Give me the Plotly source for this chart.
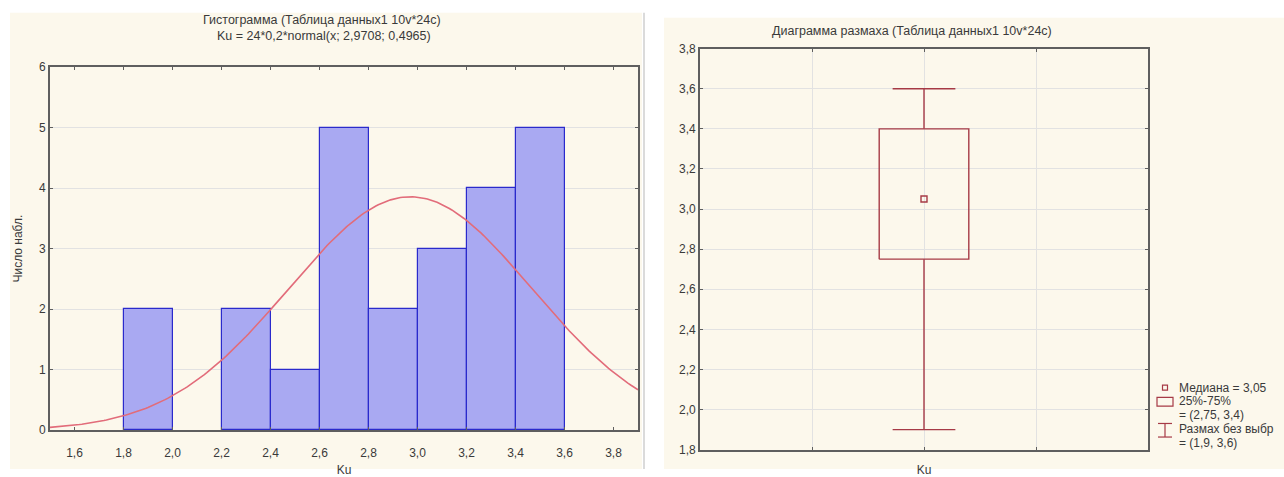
import numpy as np
import plotly.graph_objects as go

# ---- histogram data (Ku, 24 observations, bin width 0.2) ----
bin_left = [1.8, 2.0, 2.2, 2.4, 2.6, 2.8, 3.0, 3.2, 3.4]
bin_counts = [2, 0, 2, 1, 5, 2, 3, 4, 5]
bin_width = 0.2
n_obs = 24
fit_mean = 2.9708
fit_sd = 0.4965

# ---- box plot summary ----
box_label = "Ku"
q1, median, q3 = 2.75, 3.05, 3.4
whisker_low, whisker_high = 1.9, 3.6

W, H = 1284, 477
CREAM = "#fcf8ec"
FRAME = "#5f5f5f"
GRID = "#e2e2e2"
TXT = "#3a3a3a"
BOXC = "#a63a46"
FONT = "Liberation Sans"


def px_x(v):
    return v / W


def px_y(v):
    return (H - v) / H


def fmt(v):
    s = f"{v:g}"
    return s.replace(".", ",")


fig = go.Figure()

# histogram bars (empty bins get no outline)
fig.add_trace(go.Bar(
    x=[b + bin_width / 2 for b in bin_left], y=bin_counts, width=bin_width,
    marker=dict(color="#a9a9f2",
                line=dict(color=["#2a2acc" if c > 0 else "rgba(0,0,0,0)" for c in bin_counts],
                          width=1.2)),
    xaxis="x", yaxis="y", showlegend=False, hoverinfo="skip"))

# fitted normal curve, scaled to counts: n * width * pdf
xs = np.linspace(1.5, 3.9, 241)
pdf = np.exp(-0.5 * ((xs - fit_mean) / fit_sd) ** 2) / (fit_sd * np.sqrt(2 * np.pi))
fig.add_trace(go.Scatter(
    x=xs, y=n_obs * bin_width * pdf, mode="lines",
    line=dict(color="#e26c7a", width=1.6),
    xaxis="x", yaxis="y", showlegend=False, hoverinfo="skip"))

# box-and-whisker: box, whiskers, caps, median
bx = 0.0
half_box = 0.4
half_cap = 0.28
fig.add_trace(go.Scatter(
    x=[bx - half_box, bx + half_box, bx + half_box, bx - half_box, bx - half_box],
    y=[q1, q1, q3, q3, q1], mode="lines",
    line=dict(color=BOXC, width=1.4), xaxis="x2", yaxis="y2",
    showlegend=False, hoverinfo="skip"))
fig.add_trace(go.Scatter(
    x=[bx, bx, None, bx, bx, None,
       bx - half_cap, bx + half_cap, None, bx - half_cap, bx + half_cap],
    y=[q3, whisker_high, None, q1, whisker_low, None,
       whisker_high, whisker_high, None, whisker_low, whisker_low],
    mode="lines", line=dict(color=BOXC, width=1.4), xaxis="x2", yaxis="y2",
    showlegend=False, hoverinfo="skip"))
fig.add_trace(go.Scatter(
    x=[bx], y=[median], mode="markers",
    marker=dict(symbol="square-open", size=6, color=BOXC, line=dict(width=1.4)),
    xaxis="x2", yaxis="y2", showlegend=False, hoverinfo="skip"))

# panel backgrounds and separator
shapes = [
    dict(type="rect", xref="paper", yref="paper", x0=px_x(10), x1=px_x(642),
         y0=0, y1=px_y(6), fillcolor=CREAM, line=dict(width=0), layer="below"),
    dict(type="rect", xref="paper", yref="paper", x0=px_x(664), x1=1,
         y0=0, y1=px_y(11), fillcolor=CREAM, line=dict(width=0), layer="below"),
    dict(type="line", xref="paper", yref="paper", x0=px_x(644), x1=px_x(644),
         y0=0, y1=px_y(6), line=dict(color="#cfcfcf", width=1.5)),
]

# legend glyphs for the box plot
lx = 1165
shapes += [
    dict(type="rect", xref="paper", yref="paper", x0=px_x(lx - 2.5), x1=px_x(lx + 2.5),
         y0=px_y(395.5), y1=px_y(390.5), line=dict(color=BOXC, width=1.2)),
    dict(type="rect", xref="paper", yref="paper", x0=px_x(lx - 8), x1=px_x(lx + 8),
         y0=px_y(412), y1=px_y(403), line=dict(color=BOXC, width=1.2)),
    dict(type="line", xref="paper", yref="paper", x0=px_x(lx - 7), x1=px_x(lx + 7),
         y0=px_y(430), y1=px_y(430), line=dict(color=BOXC, width=1.2)),
    dict(type="line", xref="paper", yref="paper", x0=px_x(lx - 7), x1=px_x(lx + 7),
         y0=px_y(444), y1=px_y(444), line=dict(color=BOXC, width=1.2)),
    dict(type="line", xref="paper", yref="paper", x0=px_x(lx), x1=px_x(lx),
         y0=px_y(430), y1=px_y(444), line=dict(color=BOXC, width=1.2)),
]

# legend text; the range label runs to the right edge of the page
legend_lines = [
    (393, f"Медиана = {fmt(median)}"),
    (407, "25%-75%"),
    (421, f"= ({fmt(q1)}, {fmt(q3)})"),
    (436, "Размах без выбр"),
    (450, f"= ({fmt(whisker_low)}, {fmt(whisker_high)})"),
]
annotations = [
    dict(xref="paper", yref="paper", x=px_x(1177), y=px_y(yy), text=t,
         showarrow=False, xanchor="left", yanchor="middle",
         font=dict(family=FONT, size=12, color=TXT))
    for yy, t in legend_lines
]

# titles
annotations += [
    dict(xref="paper", yref="paper", x=px_x(322), y=px_y(13),
         text="Гистограмма (Таблица данных1 10v*24c)", showarrow=False,
         xanchor="center", yanchor="middle",
         font=dict(family=FONT, size=12.5, color=TXT)),
    dict(xref="paper", yref="paper", x=px_x(324), y=px_y(30),
         text=f"Ku = {n_obs}*{fmt(bin_width)}*normal(x; {fmt(fit_mean)}; {fmt(fit_sd)})",
         showarrow=False, xanchor="center", yanchor="middle",
         font=dict(family=FONT, size=12.5, color=TXT)),
    dict(xref="paper", yref="paper", x=px_x(912), y=px_y(25),
         text="Диаграмма размаха (Таблица данных1 10v*24c)", showarrow=False,
         xanchor="center", yanchor="middle",
         font=dict(family=FONT, size=12.5, color=TXT)),
]

axis_common = dict(showline=True, mirror="ticks", linecolor=FRAME, linewidth=1.8,
                   ticks="inside", ticklen=3, tickcolor=FRAME, zeroline=False,
                   tickfont=dict(family=FONT, size=12, color=TXT))

fig.update_layout(
    width=W, height=H, margin=dict(l=0, r=0, t=0, b=0),
    paper_bgcolor="white", plot_bgcolor="white",
    separators=", ", bargap=0, showlegend=False,
    shapes=shapes, annotations=annotations,
    xaxis=dict(domain=[px_x(50), px_x(638)], range=[1.5, 3.9], dtick=0.2,
               tick0=1.6, tickformat=".1f", showgrid=False, anchor="y",
               ticklabelstandoff=10,
               title=dict(text="Ku", standoff=8,
                          font=dict(family=FONT, size=12, color=TXT)),
               **axis_common),
    yaxis=dict(domain=[px_y(437), px_y(62)], range=[0, 6], dtick=1,
               showgrid=True, gridcolor=GRID, gridwidth=1, anchor="x",
               title=dict(text="Число набл.", standoff=14,
                          font=dict(family=FONT, size=12, color=TXT)),
               **axis_common),
    xaxis2=dict(domain=[px_x(700), px_x(1148)], range=[-2, 2],
                tickvals=[-1, 0, 1], ticktext=["", box_label, ""],
                ticklabelstandoff=8,
                showgrid=True, gridcolor=GRID, gridwidth=1, anchor="y2",
                **axis_common),
    yaxis2=dict(domain=[px_y(457), px_y(43)], range=[1.8, 3.8], dtick=0.2,
                tick0=1.8, tickformat=".1f", showgrid=True, gridcolor=GRID,
                gridwidth=1, anchor="x2", **axis_common),
)

fig.write_html("out.html")
